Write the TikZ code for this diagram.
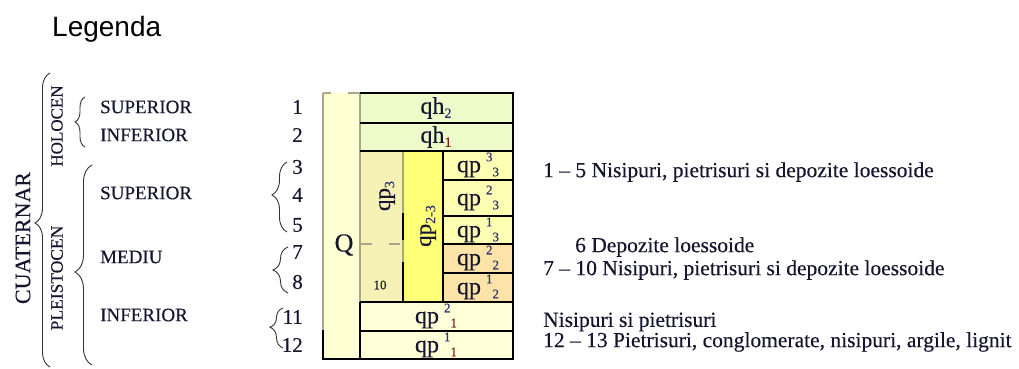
\documentclass[tikz,border=0pt]{standalone}
\usepackage{fontspec}
\setmainfont{Liberation Serif}[UprightFeatures={FakeBold=0.3}]
\newfontfamily\legfont{Liberation Sans}
\usepackage{xcolor}
\usetikzlibrary{decorations.pathreplacing}

\definecolor{ink}{HTML}{15152E}
\definecolor{idxred}{HTML}{7A1A2A}
\definecolor{idxblue}{HTML}{2A3070}
\definecolor{cQ}{HTML}{FFFFD4}
\definecolor{cqh}{HTML}{EDFBCB}
\definecolor{cqpa}{HTML}{F6F1B4}
\definecolor{cqpb}{HTML}{FFFF78}
\definecolor{cqpc}{HTML}{FFFFB4}
\definecolor{cqpd}{HTML}{FCE4A8}
\definecolor{cqpe}{HTML}{FFFFD8}
\definecolor{edge}{HTML}{A8A888}

\newcommand{\fsz}[1]{\fontsize{#1}{#1}\selectfont}
\newcommand{\qpi}[3]{qp\kern5pt\raisebox{11pt}{\fsz{13}\color{idxblue}#1}\raisebox{-4pt}{\fsz{13}\color{#3}#2}}

\begin{document}
\begin{tikzpicture}[x=1pt,y=-1pt,
    txt/.style={inner sep=0pt,text=ink,font=\fsz{19}},
    num/.style={inner sep=0pt,text=ink,font=\fsz{21},anchor=east},
    lab/.style={inner sep=0pt,text=ink,font=\fsz{24}},
    note/.style={inner sep=0pt,text=ink,font=\fsz{21.5},anchor=west},
    brc/.style={decorate,draw=black!80,line width=0.9pt},
    blk/.style={line width=1.2pt,black},
    gry/.style={line width=1.1pt,edge}]
  \useasboundingbox (0,0) rectangle (1019,369);

  \node[inner sep=0pt,anchor=west,font=\legfont\fsz{28}] (leg) at (52,29) {Legenda};

  % ages
  \node[txt,font=\fsz{22},rotate=90] (cuat) at (23,238) {CUATERNAR};
  \node[txt,font=\fsz{17},rotate=90] (holo) at (57,126) {HOLOCEN};
  \node[txt,font=\fsz{17.5},rotate=90] (pleist) at (57,278) {PLEISTOCEN};
  \draw[brc,decoration={brace,amplitude=15pt,aspect=0.49}] (50,367) -- (50,73);
  \draw[brc,decoration={brace,amplitude=10pt}] (85,147) -- (85,97);
  \draw[brc,decoration={brace,amplitude=17pt,aspect=0.465}] (92,365) -- (92,165);

  \node[txt,anchor=west] (hsup) at (100,107) {SUPERIOR};
  \node[txt,anchor=west] (hinf) at (100,135) {INFERIOR};
  \node[txt,anchor=west] (psup) at (100,193) {SUPERIOR};
  \node[txt,anchor=west] (pmed) at (100,257) {MEDIU};
  \node[txt,anchor=west] (pinf) at (100,315) {INFERIOR};

  % layer numbers
  \node[num] (n1) at (303,107) {1};
  \node[num] (n2) at (303,135) {2};
  \node[num] (n3) at (303,167) {3};
  \node[num] (n4) at (303,195) {4};
  \node[num] (n5) at (303,225) {5};
  \node[num] (n7) at (303,252) {7};
  \node[num] (n8) at (303,282) {8};
  \node[num] (n11) at (303,317) {11};
  \node[num] (n12) at (303,345) {12};
  \draw[brc,decoration={brace,amplitude=15pt,aspect=0.53}] (287,232) -- (287,162);
  \draw[brc,decoration={brace,amplitude=15pt}] (288,293) -- (288,247);
  \draw[brc,decoration={brace,amplitude=13pt,aspect=0.52}] (283,348) -- (283,308);

  % fills
  \fill[cQ] (323,93) rectangle (360,359);
  \fill[cqh] (360,93) rectangle (513,151);
  \fill[cqpa] (360,151) rectangle (403,302);
  \fill[cqpb] (403,151) rectangle (443,302);
  \fill[cqpc] (443,151) rectangle (513,244);
  \fill[cqpd] (443,244) rectangle (513,302);
  \fill[cqpe] (360,302) rectangle (513,359);

  % grey edges
  \draw[gry] (323,93) -- (331,93) (348,93) -- (360,93);
  \draw[gry] (323,93) -- (323,330);
  \draw[gry] (360,93) -- (360,302);
  \draw[gry] (403,151) -- (403,302);
  \draw[gry,dash pattern=on 11pt off 17pt] (361,244) -- (403,244);

  % black edges
  \draw[blk] (360,93) -- (513,93) -- (513,359) -- (323,359) -- (323,330);
  \draw[blk] (360,302) -- (360,359);
  \foreach \y in {123,151,302,331} \draw[blk] (360,\y) -- (513,\y);
  \foreach \y in {180,216,244,273} \draw[blk] (443,\y) -- (513,\y);
  \draw[blk] (443,151) -- (443,302);
  \draw[blk] (403,213) -- (403,240) (403,262) -- (403,302);

  % cell labels
  \node[lab,font=\fsz{26}] (Q) at (344,245) {Q};
  \node[lab] (qh2) at (436,108) {qh\raisebox{-4pt}{\fsz{14}\color{idxblue}2}};
  \node[lab] (qh1) at (436,137) {qh\raisebox{-4pt}{\fsz{14}\color{idxred}1}};
  \node[lab,font=\fsz{23},rotate=90] (qp3) at (387,196) {qp\raisebox{-4pt}{\fsz{14}\color{idxblue}3}};
  \node[lab,font=\fsz{23},rotate=90] (qp23) at (428,226) {qp\raisebox{-4pt}{\fsz{14}\color{idxblue}2-3}};
  \node[txt,font=\fsz{13}] (ten) at (380,285) {10};
  \node[lab] (qp33) at (478,165) {\qpi{3}{3}{idxblue}};
  \node[lab] (qp32) at (478,198) {\qpi{2}{3}{idxblue}};
  \node[lab] (qp31) at (478,230) {\qpi{1}{3}{idxblue}};
  \node[lab] (qp22) at (478,258) {\qpi{2}{2}{idxblue}};
  \node[lab] (qp21) at (478,287) {\qpi{1}{2}{idxblue}};
  \node[lab] (qp12) at (436,316) {\qpi{2}{1}{idxred}};
  \node[lab] (qp11) at (436,345) {\qpi{1}{1}{idxred}};

  % notes
  \node[note] (t1) at (543,172) {1 -- 5 Nisipuri, pietrisuri si depozite loessoide};
  \node[note] (t2) at (575,247) {6 Depozite loessoide};
  \node[note] (t3) at (543,270) {7 -- 10 Nisipuri, pietrisuri si depozite loessoide};
  \node[note] (t4) at (543,322) {Nisipuri si pietrisuri};
  \node[note] (t5) at (543,342) {12 -- 13 Pietrisuri, conglomerate, nisipuri, argile, lignit};
\end{tikzpicture}
\end{document}
